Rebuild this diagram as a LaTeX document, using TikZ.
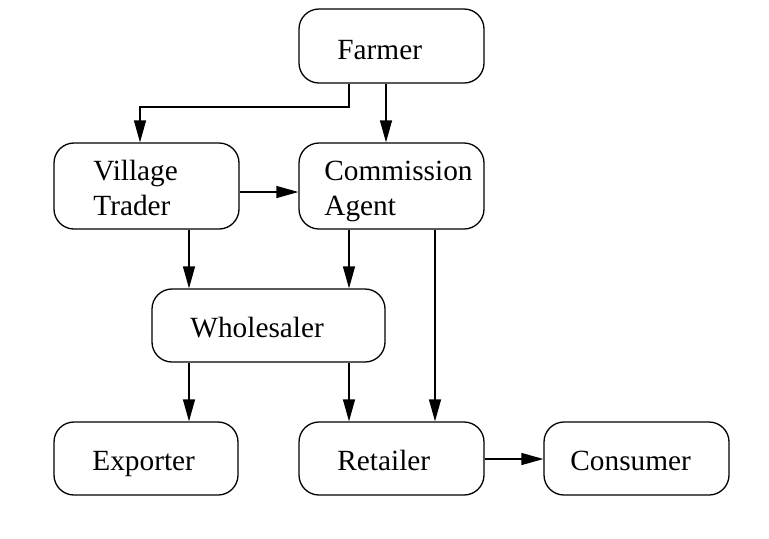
\documentclass[tikz,border=0pt]{standalone}
\usepackage{fontspec}
\setmainfont{Liberation Serif}
\usetikzlibrary{arrows.meta}
\begin{document}
\begin{tikzpicture}[x=0.5pt,y=-0.5pt,
  box/.style={draw, line width=0.65pt, rounded corners=10pt, inner sep=0pt},
  lbl/.style={anchor=base west, inner sep=0pt, font=\fontsize{14.65pt}{17.5pt}\selectfont},
  arr/.style={draw, line width=0.65pt, -{Triangle[length=11pt,width=6pt]}}]
\useasboundingbox (0,0) rectangle (769,538);
\node[box, minimum width=92.5pt, minimum height=37pt] (farmer) at (391.5,46) {};
\node[box, minimum width=92.5pt, minimum height=43pt] (vt) at (146.5,186) {};
\node[box, minimum width=92.5pt, minimum height=43pt] (ca) at (391.5,186) {};
\node[box, minimum width=116.5pt, minimum height=36.5pt] (wh) at (268.5,325.5) {};
\node[box, minimum width=92pt, minimum height=36.5pt] (ex) at (146,458.5) {};
\node[box, minimum width=92.5pt, minimum height=36.5pt] (re) at (391.5,458.5) {};
\node[box, minimum width=92.5pt, minimum height=36.5pt] (co) at (636.5,458.5) {};
\node[lbl] (tfarmer) at (337,59) {Farmer};
\node[lbl] (tvt1) at (93,180) {Village};
\node[lbl] (tvt2) at (93,215) {Trader};
\node[lbl] (tca1) at (324,180) {Commission};
\node[lbl] (tca2) at (324,215) {Agent};
\node[lbl] (twh) at (190,337) {Wholesaler};
\node[lbl] (tex) at (92,470) {Exporter};
\node[lbl] (tre) at (337,470) {Retailer};
\node[lbl] (tco) at (570,470) {Consumer};
\coordinate (xa) at (140,0);
\coordinate (xb) at (189,0);
\coordinate (xc) at (349,0);
\coordinate (xd) at (386,0);
\coordinate (xe) at (435,0);
\coordinate (ya) at (0,107);
\coordinate (yb) at (0,192);
\coordinate (yc) at (0,459);
\draw[arr] (farmer.south -| xc) |- (xa |- ya) -- (vt.north -| xa);
\draw[arr] (farmer.south -| xd) -- (ca.north -| xd);
\draw[arr] (vt.east |- yb) -- (ca.west |- yb);
\draw[arr] (vt.south -| xb) -- (wh.north -| xb);
\draw[arr] (ca.south -| xc) -- (wh.north -| xc);
\draw[arr] (ca.south -| xe) -- (re.north -| xe);
\draw[arr] (wh.south -| xb) -- (ex.north -| xb);
\draw[arr] (wh.south -| xc) -- (re.north -| xc);
\draw[arr] (re.east |- yc) -- (co.west |- yc);
\end{tikzpicture}
\end{document}
